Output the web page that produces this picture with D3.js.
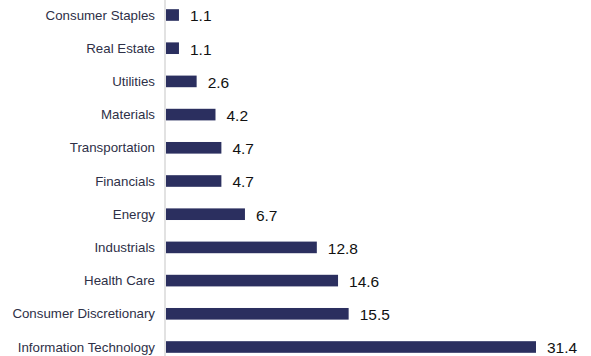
<!DOCTYPE html>
<html>
<head>
<meta charset="utf-8">
<script src="https://cdn.jsdelivr.net/npm/d3@7"></script>
<style>
  body { margin: 0; background: #fff; }
  svg { display: block; font-family: "Liberation Sans", Arial, sans-serif; }
</style>
</head>
<body>
<script>
'use strict';

const sectors = ['Consumer Staples', 'Real Estate', 'Utilities', 'Materials', 'Transportation',
  'Financials', 'Energy', 'Industrials', 'Health Care', 'Consumer Discretionary', 'Information Technology'];
const weights = [1.1, 1.1, 2.6, 4.2, 4.7, 4.7, 6.7, 12.8, 14.6, 15.5, 31.4];

(function() {
  const width = 591, height = 356;
  const x0 = 166;

  let svg = d3.select('body').append('svg')
    .attr('width', width)
    .attr('height', height);

  // x scale: 31.4 -> bar end ~536
  let xScale = d3.scaleLinear()
    .domain([0, 31.4])
    .range([x0, 536]);

  // band scale centred so first bar sits at y=15 and last at y=347
  let yScale = d3.scaleBand()
    .domain(sectors)
    .range([-1.6, 363.6])
    .paddingInner(0.65)
    .paddingOuter(0.325);

  let rows = sectors.map((s, i) => ({ name: s, value: weights[i] }));

  // category labels
  svg.selectAll('.cat')
    .data(rows)
    .enter()
    .append('text')
      .attr('class', 'cat')
      .attr('x', 155)
      .attr('y', (d) => yScale(d.name) + yScale.bandwidth() / 2)
      .attr('dy', '0.35em')
      .style('text-anchor', 'end')
      .style('font-size', '13.3px')
      .style('fill', '#2e3047')
      .text((d) => d.name);

  // bars
  svg.selectAll('.bar')
    .data(rows)
    .enter()
    .append('rect')
      .attr('class', 'bar')
      .attr('x', xScale(0))
      .attr('y', (d) => yScale(d.name))
      .attr('width', (d) => xScale(d.value) - xScale(0))
      .attr('height', yScale.bandwidth())
      .attr('fill', '#2b2f5f');

  // vertical axis line
  svg.append('line')
    .attr('x1', 165).attr('x2', 165)
    .attr('y1', 0).attr('y2', height)
    .style('stroke', '#d9d9d9')
    .style('stroke-width', 1.5);

  // value labels
  svg.selectAll('.val')
    .data(rows)
    .enter()
    .append('text')
      .attr('class', 'val')
      .attr('x', (d) => xScale(d.value) + 11)
      .attr('y', (d) => yScale(d.name) + yScale.bandwidth() / 2 + 1)
      .attr('dy', '0.35em')
      .style('font-size', '15.5px')
      .style('fill', '#111')
      .text((d) => d.value.toFixed(1));
})();
</script>
</body>
</html>
